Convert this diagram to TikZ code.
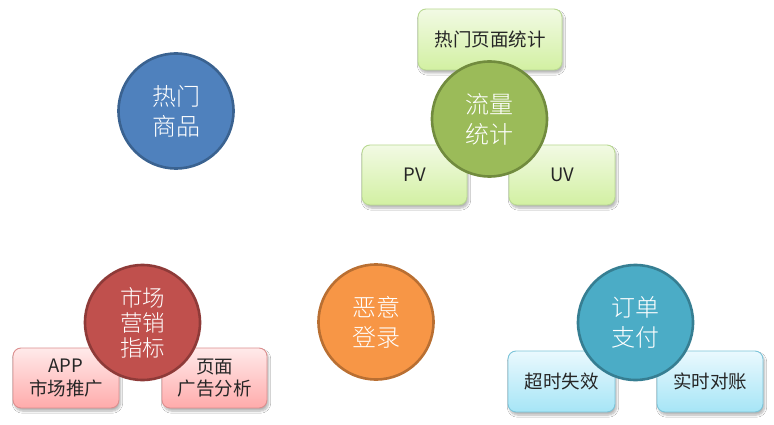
\documentclass[tikz,border=0pt]{standalone}
\usepackage{fontspec}
\setmainfont{Noto Sans CJK SC}
\newfontfamily\thincjk{Noto Sans CJK SC Light}
\usetikzlibrary{shadows.blur}

% circle palette
\definecolor{blueF}{HTML}{4F81BD}\definecolor{blueD}{HTML}{3A6290}
\definecolor{greenF}{HTML}{9BBB59}\definecolor{greenD}{HTML}{718B3E}
\definecolor{redF}{HTML}{C0504D}\definecolor{redD}{HTML}{8E3A38}
\definecolor{orangeF}{HTML}{F79646}\definecolor{orangeD}{HTML}{B96F32}
\definecolor{tealF}{HTML}{4BACC6}\definecolor{tealD}{HTML}{367E92}
% box palette
\definecolor{gTop}{HTML}{F2FAE4}\definecolor{gBot}{HTML}{D2F0A2}\definecolor{gLine}{HTML}{B9D992}
\definecolor{rTop}{HTML}{FFEAEA}\definecolor{rBot}{HTML}{FFABAB}\definecolor{rLine}{HTML}{DC8F8F}
\definecolor{bTop}{HTML}{EAF9FE}\definecolor{bBot}{HTML}{A6E5F6}\definecolor{bLine}{HTML}{7CC4D9}

\tikzset{
  hub/.style={circle, minimum size=115pt, inner sep=0pt, line width=2.6pt,
    text=white, align=center, font=\thincjk\fontsize{24}{30}\selectfont},
  leaf/.style={rounded corners=8pt, line width=0.9pt, inner sep=0pt, align=center,
    text=black!85, font=\fontsize{18.5}{22.5}\selectfont,
    blur shadow={shadow xshift=1.5pt, shadow yshift=-3pt, shadow blur steps=7, shadow opacity=30}},
  greenleaf/.style={leaf, draw=gLine, top color=gTop, bottom color=gBot},
  redleaf/.style={leaf, draw=rLine, top color=rTop, bottom color=rBot},
  blueleaf/.style={leaf, draw=bLine, top color=bTop, bottom color=bBot},
}

\begin{document}
\begin{tikzpicture}[x=1pt,y=-1pt]
\useasboundingbox[fill=white] (0,0) rectangle (774,425);

% hot goods
\node[hub, fill=blueF, draw=blueD] (hot) at (176,111) {热门\\商品};

% traffic statistics
\node[greenleaf, minimum width=144pt, minimum height=61pt] (page) at (490,39.5) {热门页面统计};
\node[greenleaf, minimum width=105pt, minimum height=60pt] (pv) at (414.5,175) {PV};
\node[greenleaf, minimum width=106pt, minimum height=60pt] (uv) at (562,175) {UV};
\node[hub, fill=greenF, draw=greenD] (flow) at (489.5,119) {流量\\统计};

% marketing metrics
\node[redleaf, minimum width=106pt, minimum height=60pt] (app) at (66,378) {APP\\市场推广};
\node[redleaf, minimum width=105pt, minimum height=60pt] (ads) at (214.5,378) {页面\\广告分析};
\node[hub, fill=redF, draw=redD, font=\thincjk\fontsize{22.5}{25}\selectfont] (mkt) at (142.5,322.5) {市场\\营销\\指标};

% malicious login
\node[hub, fill=orangeF, draw=orangeD] (login) at (376,322) {恶意\\登录};

% order payment
\node[blueleaf, minimum width=107pt, minimum height=61pt] (timeout) at (561.5,381.5) {超时失效};
\node[blueleaf, minimum width=106pt, minimum height=61pt] (recon) at (710,381.5) {实时对账};
\node[hub, fill=tealF, draw=tealD] (pay) at (635.5,322.5) {订单\\支付};
\end{tikzpicture}
\end{document}
